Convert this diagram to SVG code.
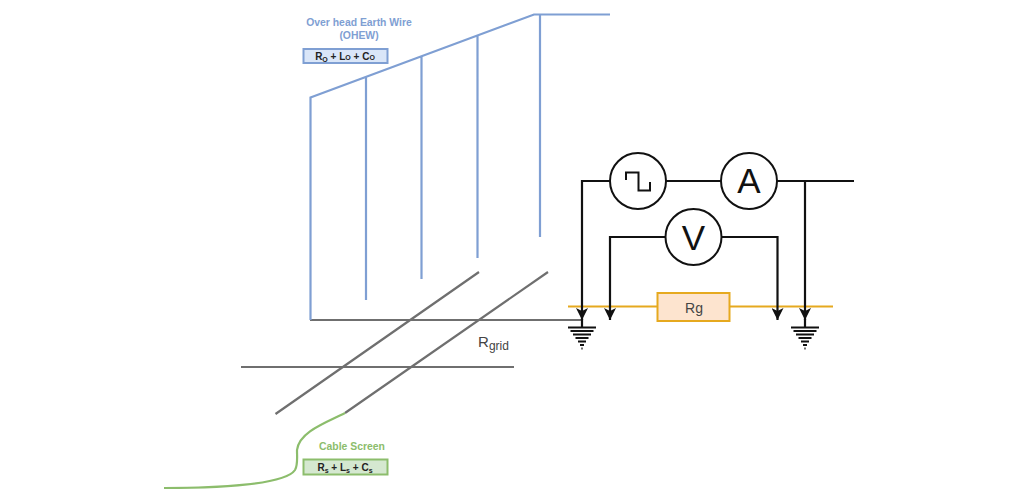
<svg xmlns="http://www.w3.org/2000/svg" width="1024" height="492" viewBox="0 0 1024 492">
<style>
text{font-family:"Liberation Sans",Arial,sans-serif;text-anchor:middle}
.w{fill:none;stroke-linejoin:miter}
.b{stroke:#7f9fd3;stroke-width:2.200}
.g{stroke:#6f6f6f;stroke-width:2.200}
.k{stroke:#111;stroke-width:2.200}
.o{stroke:#e6a91f;stroke-width:2.200}
.c{fill:#fff;stroke:#111;stroke-width:2}
.e{stroke:#111;stroke-width:2}
.eq{font-size:10px;font-weight:bold;fill:#222}
.sub{font-size:7px}
</style>
<defs>
<marker id="arr" markerUnits="userSpaceOnUse" markerWidth="12" markerHeight="12" refX="10" refY="5" viewBox="0 0 10 10" orient="auto">
<path d="M0,0L10,5L0,10L2.500,5Z" fill="#111"/>
</marker>
<g id="gnd"><path class="e" d="M-14,0H14M-11.500,3.500H11.500M-9,7H9M-6.500,10.500H6.500M-4,14H4M-2,17.500H2M-.6,21H.6"/></g>
</defs>
<g id="connectors" class="w">
<path class="g" d="M310,320H582"/>
<path class="g" d="M479,272L275.500,414M548,272L345,413M241,367H514"/>
<path class="b" d="M310.500,320V97.500L534,14.500H610M366,77V300M421.500,56V279M477.500,35V258M540,14.500V237"/>
<path d="M164,488C215,488 285,485 295,470C298,465 297,458 297,450C299,432 325,423 345,413" stroke="#8cbd6c" stroke-width="2.200" fill="none"/>
<path class="o" d="M568,306.500H657.500M729.500,306.500H833"/>
<path class="k" d="M610,181H582V320" marker-end="url(#arr)"/>
<path class="k" d="M666,181H721"/>
<path class="k" d="M777,181H854"/>
<path class="k" d="M805,181V320" marker-end="url(#arr)"/>
<path class="k" d="M665.500,237H610V320" marker-end="url(#arr)"/>
<path class="k" d="M721.500,237H777.500V320" marker-end="url(#arr)"/>
<path class="k" d="M582,319V327M805,319V327"/>
</g>
<g id="ground1"><use href="#gnd" x="582" y="327.500"/></g>
<g id="ground2"><use href="#gnd" x="805" y="327.500"/></g>
<g id="source"><circle class="c" cx="638" cy="181" r="28"/><path d="M626,180V172.500H638.500V190.500H650V182" fill="none" stroke="#111" stroke-width="2"/></g>
<g id="ammeter"><circle class="c" cx="749" cy="181" r="28"/><text x="749" y="193" font-size="35" fill="#111">A</text></g>
<g id="voltmeter"><circle class="c" cx="693.500" cy="237" r="28"/><text x="693.500" y="249.500" font-size="35" fill="#111">V</text></g>
<g id="rg"><rect x="657.500" y="293" width="72" height="28" fill="#fde4cf" stroke="#e6a91f" stroke-width="2"/><text x="694" y="312.500" font-size="14" fill="#444">Rg</text></g>
<g id="ohew">
<text x="359" y="25.500" font-size="10.400" font-weight="bold" fill="#7f9fd3">Over head Earth Wire</text>
<text x="359" y="39" font-size="10.400" font-weight="bold" fill="#7f9fd3">(OHEW)</text>
<rect x="303.500" y="49" width="84" height="14" fill="#dae6f8" stroke="#7f9fd3" stroke-width="2"/>
<text x="345" y="60" class="eq">R<tspan class="sub" dy="1.500">O</tspan><tspan dy="-1.500"> + L</tspan><tspan class="sub">O</tspan><tspan> + C</tspan><tspan class="sub">O</tspan></text>
</g>
<g id="cable-screen">
<text x="352" y="450" font-size="10.400" font-weight="bold" fill="#8cbd6c">Cable Screen</text>
<rect x="303.500" y="459.500" width="84" height="15" fill="#d5e8d0" stroke="#8cbd6c" stroke-width="2"/>
<text x="345" y="471" class="eq">R<tspan class="sub" dy="1.500">s</tspan><tspan dy="-1.500"> + L</tspan><tspan class="sub" dy="1.500">s</tspan><tspan dy="-1.500"> + C</tspan><tspan class="sub" dy="1.500">s</tspan></text>
</g>
<g id="rgrid"><text x="493.500" y="347" font-size="15" fill="#444">R<tspan font-size="12" dy="3">grid</tspan></text></g>
</svg>
